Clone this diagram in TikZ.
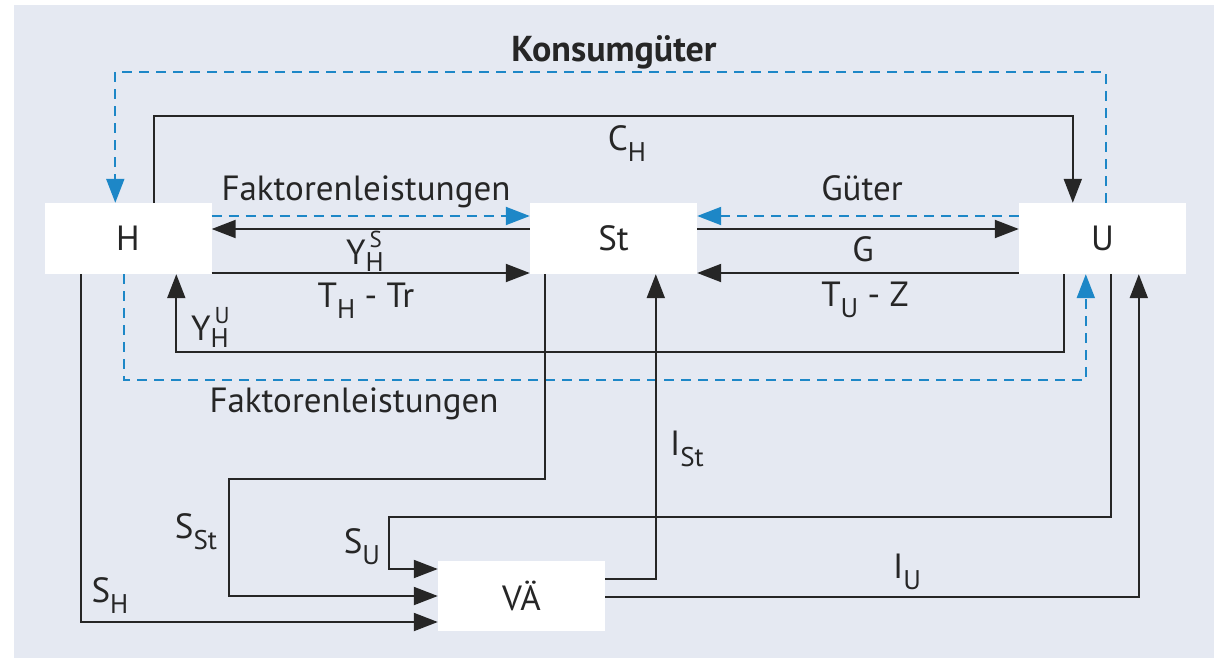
\documentclass[tikz,border=0pt]{standalone}
\usepackage{fontspec}
\setmainfont{PT Sans}
\usetikzlibrary{arrows.meta}
\definecolor{bgblue}{HTML}{E5E9F2}
\definecolor{flowblue}{HTML}{1D87C7}
\definecolor{inkgray}{HTML}{262626}
\newcommand{\lw}[1]{\raisebox{-0.34em}{\fontsize{27}{27}\selectfont #1}}
\newcommand{\ud}[2]{\rlap{\raisebox{0.48em}{\fontsize{23}{23}\selectfont\,#2}}\raisebox{-0.2em}{\fontsize{27}{27}\selectfont #1}}
\tikzset{
  sector/.style={fill=white, minimum width=167pt, minimum height=71pt, inner sep=0pt},
  flow/.style={draw=inkgray, line width=2pt, -{Triangle[length=24pt,width=18pt]}},
  goods/.style={draw=flowblue, line width=2pt, dash pattern=on 10pt off 7pt, -{Triangle[length=24pt,width=18pt]}},
  lbl/.style={anchor=base}
}
\begin{document}
\begin{tikzpicture}[x=1pt,y=-1pt,every node/.style={font=\fontsize{35}{40}\selectfont, text=inkgray}]
  \useasboundingbox (0,0) rectangle (1220,658);
  \fill[bgblue] (14,5) rectangle (1214,658);
  \node[sector] (H) at (128,238.5) {H};
  \node[sector] (St) at (613.5,238.5) {St};
  \node[sector] (U) at (1102.5,238.5) {U};
  \node[sector, minimum height=70pt] (VA) at (521.5,596) {VÄ};
  \draw[goods] ([xshift=87pt]U.north west) -- ++(0,-131) -| ([xshift=71pt]H.north west);
  \draw[flow] ([xshift=110pt]H.north west) -- ++(0,-87) -| ([xshift=54pt]U.north west);
  \draw[goods] ([yshift=22.5pt]H.east) -- ([yshift=22.5pt]St.west);
  \draw[goods] ([yshift=22.5pt]U.west) -- ([yshift=22.5pt]St.east);
  \draw[flow] ([yshift=9.5pt]St.west) -- ([yshift=9.5pt]H.east);
  \draw[flow] ([yshift=-34.5pt]H.east) -- ([yshift=-34.5pt]St.west);
  \draw[flow] ([yshift=9.5pt]St.east) -- ([yshift=9.5pt]U.west);
  \draw[flow] ([yshift=-34.5pt]U.west) -- ([yshift=-34.5pt]St.east);
  \draw[flow] ([xshift=45pt]U.south west) -- ++(0,78) -| ([xshift=132pt]H.south west);
  \draw[goods] ([xshift=80pt]H.south west) -- ++(0,106) -| ([xshift=67pt]U.south west);
  \draw[flow] ([xshift=15pt]St.south west) -- ++(0,205) -- ++(-316,0) |- (VA.west);
  \draw[flow] ([xshift=92pt]U.south west) -- ++(0,243) -- ++(-722,0) |- ([yshift=27pt]VA.west);
  \draw[flow] ([xshift=37pt]H.south west) |- ([yshift=-26pt]VA.west);
  \draw[flow] ([yshift=17pt]VA.east) -| ([xshift=126pt]St.south west);
  \draw[flow] ([yshift=-1pt]VA.east) -| ([xshift=120pt]U.south west);
  \node[lbl, font=\fontsize{36}{40}\selectfont\bfseries] (konsum) at (614,62) {Konsumgüter};
  \node[lbl] (ch) at (627,150) {C\lw{H}};
  \node[lbl] (faktorOben) at (366,200) {Faktorenleistungen};
  \node[lbl] (gueter) at (862,200) {Güter};
  \node[lbl] (yhs) at (365,264) {Y\ud{H}{S}};
  \node[lbl] (thtr) at (366,307) {T\lw{H} - Tr};
  \node[lbl] (g) at (863,261) {G};
  \node[lbl] (tuz) at (865,306) {T\lw{U} - Z};
  \node[lbl] (yhu) at (210,340) {Y\ud{H}{U}};
  \node[lbl] (faktorUnten) at (354,412) {Faktorenleistungen};
  \node[lbl] (ist) at (687,455) {I\lw{St}};
  \node[lbl] (iu) at (907,578) {I\lw{U}};
  \node[lbl] (sst) at (196,538) {S\lw{St}};
  \node[lbl] (su) at (362,553) {S\lw{U}};
  \node[lbl] (sh) at (110,602) {S\lw{H}};
\end{tikzpicture}
\end{document}
